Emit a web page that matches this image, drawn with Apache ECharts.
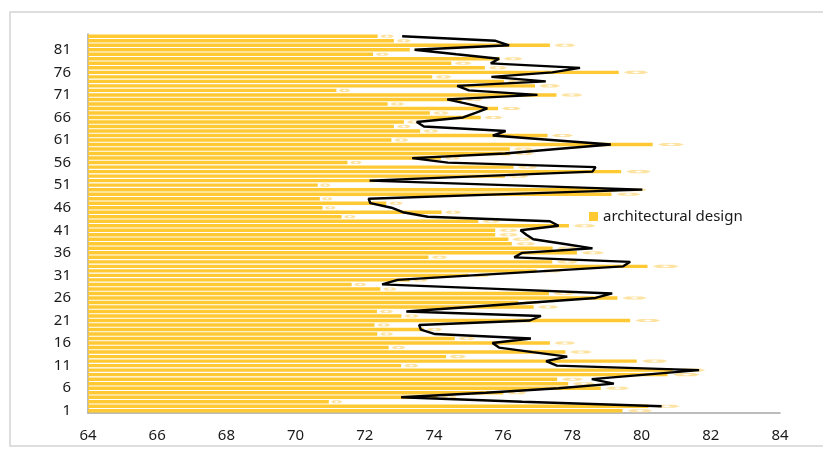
<!DOCTYPE html>
<html>
<head>
<meta charset="utf-8">
<script src="https://cdn.jsdelivr.net/npm/echarts@6/dist/echarts.min.js"></script>
<style>
  html, body { margin: 0; padding: 0; background: #fff; }
  #main { width: 823px; height: 449px; }
</style>
</head>
<body>
<div id="main"></div>
<script>
// categories 1..84 (bottom to top)
const categories = ['1','2','3','4','5','6','7','8','9','10','11','12','13','14','15','16','17','18','19','20',
  '21','22','23','24','25','26','27','28','29','30','31','32','33','34','35','36','37','38','39','40',
  '41','42','43','44','45','46','47','48','49','50','51','52','53','54','55','56','57','58','59','60',
  '61','62','63','64','65','66','67','68','69','70','71','72','73','74','75','76','77','78','79','80',
  '81','82','83','84'];

// bar values
const barValues = [79.45, 80.2, 70.96, 74.1, 76.0, 78.82, 77.88, 77.56, 80.75, 80.9,
  73.05, 79.86, 74.35, 77.8, 72.69, 77.35, 74.6, 72.36, 73.7, 72.28,
  79.67, 73.06, 72.35, 76.88, 76.44, 79.3, 77.32, 72.45, 71.62, 73.3,
  75.0, 76.97, 80.17, 77.42, 73.84, 78.13, 77.43, 76.25, 76.15, 75.77,
  75.77, 77.9, 75.28, 71.33, 74.22, 70.78, 72.62, 70.7, 79.13, 79.3,
  70.64, 72.3, 76.05, 79.41, 76.3, 71.5, 74.2, 76.2, 76.19, 80.32,
  72.77, 77.28, 73.6, 72.84, 73.13, 75.35, 73.88, 75.85, 72.66, 74.8,
  77.54, 71.18, 76.92, 76.02, 73.95, 79.34, 75.47, 74.5, 75.9, 72.24,
  73.3, 77.35, 72.84, 72.37];

// black line values (starts at category 2)
const lineValues = [null, 80.58, 76.55, 73.05, 75.5, 77.6, 79.2, 78.56, 80.11, 81.66,
  77.55, 77.24, 77.85, 76.85, 75.88, 75.69, 76.8, 74.03, 73.62, 73.57,
  76.77, 77.09, 73.2, 75.02, 76.85, 78.67, 79.15, 75.8, 72.5, 72.95,
  75.1, 77.3, 79.47, 79.67, 76.32, 76.55, 78.58, 77.73, 76.87, 76.67,
  76.5, 77.6, 77.35, 73.82, 73.1, 72.77, 72.16, 72.11, 76.07, 80.02,
  76.08, 72.14, 75.36, 78.58, 78.67, 74.4, 73.37, 76.05, 77.55, 79.11,
  77.39, 75.7, 76.07, 73.71, 73.5, 74.84, 75.2, 75.54, 74.97, 74.38,
  76.99, 75.01, 74.67, 77.23, 75.66, 77.42, 78.22, 75.64, 75.88, 74.65,
  73.44, 76.17, 75.78, 73.08];

const xMin = 64, xMax = 84, xStep = 2;

var myChart = echarts.init(document.getElementById('main'));

// pale arrow marker drawn just after each bar end
function renderArrow(params, api) {
  var idx = api.value(0), v = api.value(1);
  var end = api.coord([v, idx]);
  var base = api.coord([xMin, idx]);
  var len = end[0] - base[0];
  var x1 = end[0] + len * 0.009;
  var x2 = x1 + len * 0.047;
  var w = x2 - x1, m = (x1 + x2) / 2;
  var h = api.size([0, 1])[1] * 0.34;
  var y = end[1];
  return {
    type: 'group',
    children: [{
      type: 'polygon',
      shape: { points: [[x1, y], [x1 + w * 0.2, y - h], [x2 - w * 0.2, y - h], [x2, y], [x2 - w * 0.2, y + h], [x1 + w * 0.2, y + h]] },
      style: { fill: '#FDE3A2' }
    }, {
      type: 'polygon',
      shape: { points: [[m - w * 0.18, y], [m, y - h * 0.6], [m + w * 0.18, y], [m, y + h * 0.6]] },
      style: { fill: '#fff' }
    }]
  };
}

var option = {
  animation: false,
  textStyle: { fontFamily: 'Noto Sans' },
  graphic: [{
    type: 'rect',
    shape: { x: 10, y: 12, width: 830, height: 434 },
    style: { fill: 'none', stroke: '#D4D4D4', lineWidth: 1.5 },
    silent: true
  }],
  legend: {
    data: ['architectural design'],
    left: 584, top: 204,
    icon: 'rect', itemWidth: 9, itemHeight: 9, itemGap: 4,
    textStyle: { fontSize: 15, color: '#1a1a1a', fontFamily: 'Noto Sans' }
  },
  grid: { left: 88, right: 43, top: 34, bottom: 36 },
  xAxis: {
    type: 'value', min: xMin, max: xMax, interval: xStep,
    splitLine: { show: false },
    axisTick: { show: false },
    axisLine: { show: true, lineStyle: { color: '#A6A6A6', width: 1.5 } },
    axisLabel: { fontSize: 15, color: '#1a1a1a', margin: 15 }
  },
  yAxis: {
    type: 'category', data: categories,
    axisTick: { show: false },
    axisLine: { show: true, lineStyle: { color: '#A6A6A6', width: 1.5 } },
    axisLabel: { interval: 4, fontSize: 15, color: '#1a1a1a', margin: 17 }
  },
  series: [{
    name: 'architectural design',
    type: 'bar',
    data: barValues,
    barCategoryGap: '24%',
    itemStyle: { color: '#FFC933' },
    z: 2
  }, {
    type: 'custom',
    renderItem: renderArrow,
    data: barValues.map(function (v, i) { return [i, v]; }),
    encode: { x: 1, y: 0 },
    z: 3,
    silent: true
  }, {
    type: 'line',
    data: lineValues,
    symbol: 'none',
    connectNulls: false,
    lineStyle: { color: '#000', width: 2.4 },
    itemStyle: { color: '#000' },
    z: 4
  }]
};
myChart.setOption(option);
</script>
</body>
</html>
